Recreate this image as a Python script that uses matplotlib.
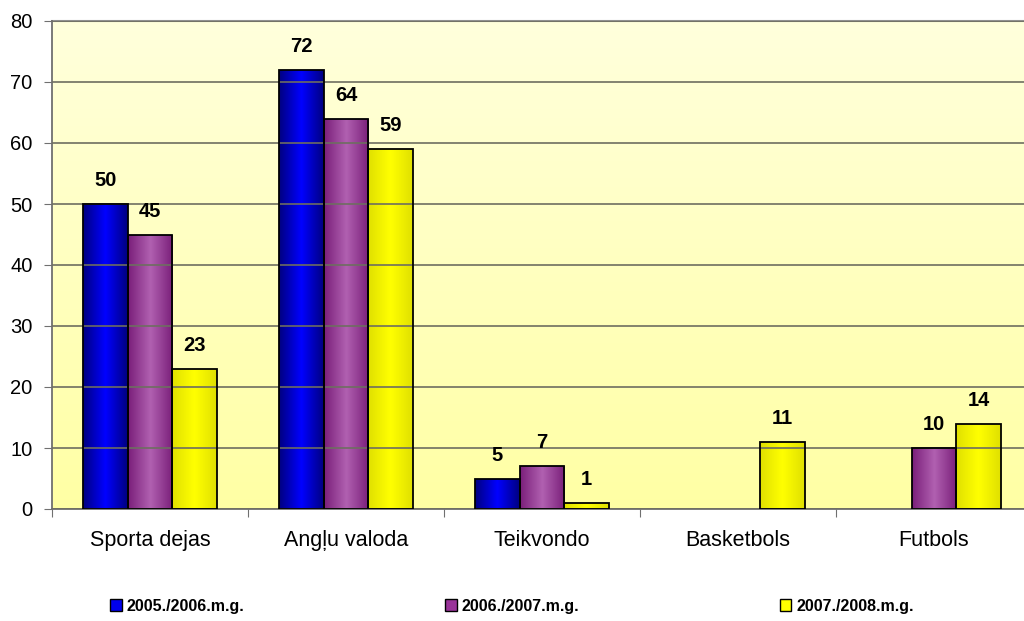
import numpy as np
import matplotlib
matplotlib.use("Agg")
import matplotlib.pyplot as plt
from matplotlib.colors import LinearSegmentedColormap
from matplotlib.patches import Patch

plt.rcParams['font.family'] = ['Liberation Sans', 'DejaVu Sans']

categories = ["Sporta dejas", "Angļu valoda", "Teikvondo", "Basketbols", "Futbols"]
series_names = ["2005./2006.m.g.", "2006./2007.m.g.", "2007./2008.m.g."]
s2005 = [50, 72, 5, 0, 0]
s2006 = [45, 64, 7, 0, 10]
s2007 = [23, 59, 1, 11, 14]
series = [s2005, s2006, s2007]
yticks = [0, 10, 20, 30, 40, 50, 60, 70, 80]

edge_cols = ["#000080", "#7a1f7a", "#e0e000"]
mid_cols = ["#0000ff", "#b060b0", "#ffff00"]
flat_cols = ["#0000ee", "#993399", "#ffff00"]

fig = plt.figure(figsize=(10.24, 6.21), dpi=100)
ax = fig.add_axes([52/1024, 1-509/621, 980/1024, 488/621])

# background gradient
bg = LinearSegmentedColormap.from_list("bg", ["#ffffa4", "#ffffdc"])
ax.imshow(np.linspace(0, 1, 256).reshape(-1, 1), cmap=bg, aspect='auto',
          extent=[0, 5, 0, 80], origin='lower', zorder=0)

x = np.arange(len(categories)) + 0.5
w = 0.227
grad = np.concatenate([np.linspace(0, 1, 64), np.linspace(1, 0, 64)]).reshape(1, -1)
for i, (vals, ec, mc) in enumerate(zip(series, edge_cols, mid_cols)):
    pos = x + (i - 1) * w
    cmap = LinearSegmentedColormap.from_list(f"c{i}", [ec, mc])
    for p, v in zip(pos, vals):
        if v <= 0:
            continue
        b = ax.bar(p, v, w, facecolor='none', edgecolor='black', linewidth=1.3, zorder=3)[0]
        im = ax.imshow(grad, cmap=cmap, aspect='auto',
                       extent=[p - w/2, p + w/2, 0, v], zorder=2)
        im.set_clip_path(b)
        ax.annotate(str(v), (p, v), xytext=(0, 10), textcoords='offset points',
                    ha='center', va='bottom', fontsize=14.5, fontweight='bold', zorder=4)

ax.set_xlim(0, 5)
ax.set_ylim(0, 80)
ax.set_yticks(yticks)
ax.set_yticklabels([str(t) for t in yticks], fontsize=14.5)
ax.yaxis.grid(True, color='#6e6e60', linewidth=1.2, zorder=1)
ax.set_axisbelow(False)
ax.set_xticks(np.arange(0, 6))
ax.set_xticklabels([])
ax.set_xticks(x, minor=True)
ax.set_xticklabels(categories, minor=True, fontsize=15.5)
ax.tick_params(axis='x', which='minor', length=0, pad=15)
ax.tick_params(axis='x', which='major', length=6, color='#707070', direction='out')
ax.tick_params(axis='y', length=6, color='#707070', direction='out', pad=8)
for s in ['top', 'right']:
    ax.spines[s].set_visible(False)
ax.spines['left'].set_color('#707070')
ax.spines['left'].set_linewidth(1.3)
ax.spines['bottom'].set_color('#707070')
ax.spines['bottom'].set_linewidth(1.3)
ax.plot([0, 5], [80, 80], color='#909090', linewidth=1.5, zorder=1, clip_on=False)

handles = [Patch(facecolor=c, edgecolor='black', linewidth=1) for c in flat_cols]
fig.legend(handles, series_names, loc='center', bbox_to_anchor=(0.5, 1-606/621),
           ncol=3, frameon=False, prop={'weight': 'bold', 'size': 11.5},
           handlelength=0.7, handleheight=0.7, handletextpad=0.3, columnspacing=12.6)

fig.savefig("out.png", dpi=100)
